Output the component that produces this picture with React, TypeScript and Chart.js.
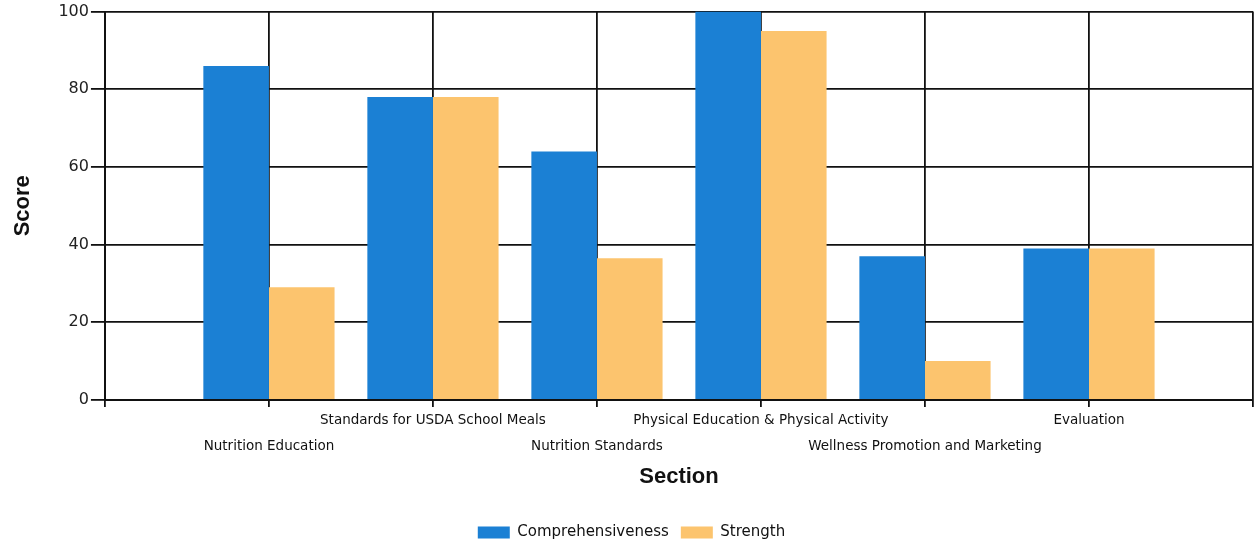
import React, { useEffect, useRef } from "react";
import { Chart, registerables } from "chart.js";

Chart.register(...registerables);

const categories = [
  "Nutrition Education",
  "Standards for USDA School Meals",
  "Nutrition Standards",
  "Physical Education & Physical Activity",
  "Wellness Promotion and Marketing",
  "Evaluation",
];
const comprehensiveness = [86, 78, 64, 100, 37, 39];
const strength = [29, 78, 36.5, 95, 10, 39];
const yTicks = [0, 20, 40, 60, 80, 100];

export default function App() {
  const ref = useRef<HTMLCanvasElement | null>(null);

  useEffect(() => {
    if (!ref.current) return;
    // pad with empty slots on each side so the plot spans from an empty edge slot
    const labels: (string | string[])[] = ["", ...categories.map((c, i) => (i % 2 === 0 ? ["", c] : [c, ""])), ""];
    const pad = (arr: number[]) => [null, ...arr, null];
    const chart = new Chart(ref.current, {
      type: "bar",
      data: {
        labels,
        datasets: [
          {
            label: "Comprehensiveness",
            data: pad(comprehensiveness),
            backgroundColor: "#1b80d4",
            barPercentage: 1.0,
            categoryPercentage: 0.8,
          },
          {
            label: "Strength",
            data: pad(strength),
            backgroundColor: "#fcc46e",
            barPercentage: 1.0,
            categoryPercentage: 0.8,
          },
        ],
      },
      options: {
        animation: false,
        responsive: false,
        maintainAspectRatio: false,
        layout: { padding: { top: 8, right: 2, left: 10, bottom: -6 } },
        plugins: {
          legend: {
            position: "bottom",
            labels: {
              boxWidth: 32,
              boxHeight: 12,
              padding: 12,
              color: "#111",
              font: { family: "DejaVu Sans", size: 15 },
            },
          },
          tooltip: { enabled: false },
        },
        scales: {
          x: {
            offset: false,
            grid: {
              offset: false,
              color: "#111",
              lineWidth: 1.8,
              tickLength: 7,
              drawTicks: true,
            },
            border: { color: "#111", width: 2 },
            ticks: {
              autoSkip: false,
              maxRotation: 0,
              minRotation: 0,
              padding: 0,
              color: "#111",
              font: { family: "DejaVu Sans", size: 13.5, lineHeight: 1.95 },
            },
            title: {
              display: true,
              text: "Section",
              color: "#111",
              font: { family: "Liberation Sans", size: 22, weight: "bold" },
              padding: { top: 4, bottom: 23 },
            },
          },
          y: {
            min: 0,
            max: 100,
            afterBuildTicks: (scale: any) => {
              scale.ticks = yTicks.map((v) => ({ value: v }));
            },
            grid: {
              color: "#111",
              lineWidth: 1.8,
              tickLength: 14,
            },
            border: { color: "#111", width: 2 },
            ticks: {
              padding: 2,
              color: "#222",
              font: { family: "DejaVu Sans", size: 16 },
            },
            title: {
              display: true,
              text: "Score",
              color: "#111",
              font: { family: "Liberation Sans", size: 22, weight: "bold" },
              padding: { top: 0, bottom: 20 },
            },
          },
        },
      },
    });
    return () => chart.destroy();
  }, []);

  return (
    <div style={{ position: "absolute", left: 0, top: 0, width: 1255, height: 544, background: "#fff" }}>
      <canvas ref={ref} width={1255} height={544} style={{ width: 1255, height: 544, display: "block" }} />
    </div>
  );
}
